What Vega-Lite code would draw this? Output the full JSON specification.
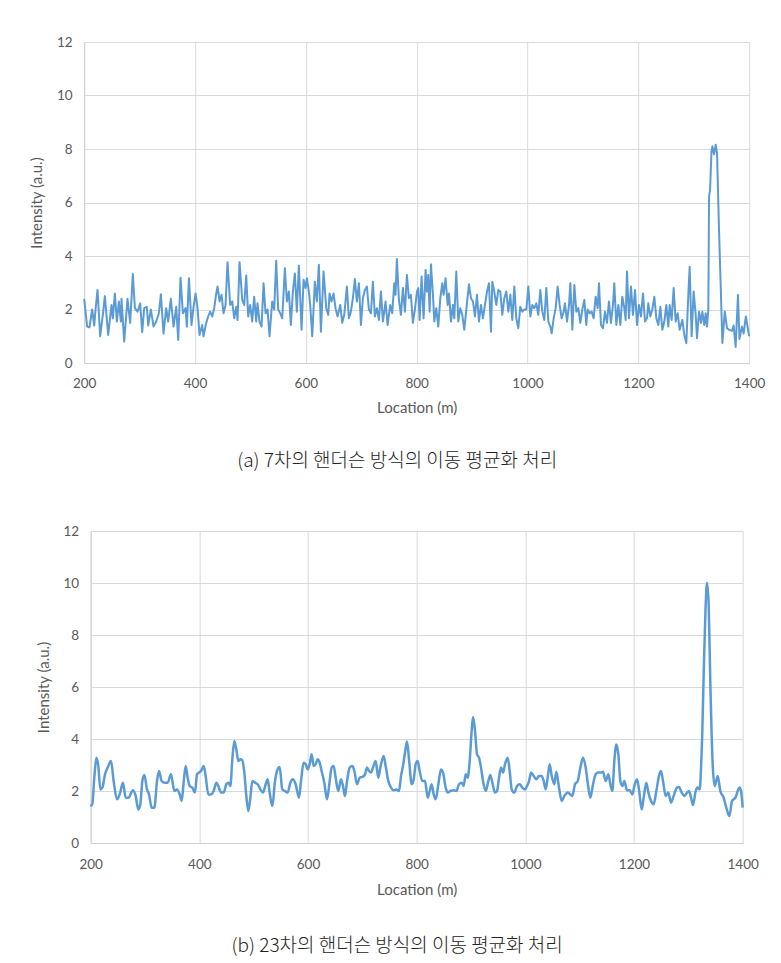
{
  "$schema": "https://vega.github.io/schema/vega-lite/v6.json",
  "background": "white",
  "padding": {"left": 29, "top": 35, "right": 20, "bottom": 10},
  "spacing": 53,
  "center": true,
  "config": {
    "view": {"stroke": null},
    "font": "Lato",
    "axis": {
      "labelFont": "Lato", "labelFontSize": 13.5, "labelColor": "#595959", "labelFlush": false,
      "titleFont": "Lato", "titleFontSize": 15, "titleFontWeight": "normal", "titleColor": "#595959",
      "gridColor": "#d9d9d9", "gridWidth": 1, "domainColor": "#d0d0d0", "ticks": false
    }
  },
  "datasets": {
    "a": [
      {"x":200,"y":2.4},{"x":205.4,"y":1.36},{"x":209.6,"y":1.33},{"x":214.4,"y":2.0},{"x":218.1,"y":1.4},{"x":220.5,"y":2.0},{"x":224.1,"y":2.73},{"x":228.9,"y":1.0},{"x":233.7,"y":1.8},{"x":237.3,"y":2.5},{"x":243.3,"y":1.05},{"x":249.3,"y":2.17},{"x":251.7,"y":1.67},{"x":255.4,"y":2.6},{"x":259,"y":1.55},{"x":262.6,"y":2.3},{"x":266.2,"y":1.55},{"x":267.4,"y":2.4},{"x":272.2,"y":0.8},{"x":278.2,"y":2.4},{"x":283,"y":1.5},{"x":287.8,"y":3.33},{"x":291.5,"y":2.05},{"x":296.3,"y":1.92},{"x":301.1,"y":2.23},{"x":304.7,"y":1.15},{"x":308.3,"y":2.05},{"x":313.1,"y":2.1},{"x":315.5,"y":1.4},{"x":320.3,"y":2.0},{"x":325.2,"y":1.36},{"x":330,"y":1.55},{"x":334.8,"y":1.86},{"x":338.4,"y":2.57},{"x":343.2,"y":1.1},{"x":348,"y":2.05},{"x":351.6,"y":1.55},{"x":356.4,"y":2.4},{"x":361.3,"y":1.36},{"x":366.1,"y":2.1},{"x":369.7,"y":0.86},{"x":373.9,"y":3.19},{"x":378.1,"y":1.86},{"x":382.9,"y":2.05},{"x":385.3,"y":1.36},{"x":389.1,"y":3.17},{"x":393.7,"y":1.42},{"x":397.4,"y":2.1},{"x":401,"y":2.6},{"x":404.6,"y":2.05},{"x":408.2,"y":1.05},{"x":413,"y":1.42},{"x":415.4,"y":1.0},{"x":420.2,"y":1.5},{"x":423.8,"y":1.74},{"x":427.4,"y":1.92},{"x":431.1,"y":1.74},{"x":434.7,"y":2.05},{"x":438.3,"y":2.6},{"x":440.7,"y":2.86},{"x":444.3,"y":2.3},{"x":447.9,"y":2.55},{"x":451.5,"y":1.86},{"x":455.1,"y":2.17},{"x":458.7,"y":3.77},{"x":463.5,"y":2.17},{"x":467.2,"y":2.3},{"x":470.8,"y":1.67},{"x":474.4,"y":2.1},{"x":476.8,"y":1.61},{"x":480.4,"y":3.77},{"x":485.2,"y":2.36},{"x":488.8,"y":2.17},{"x":492.4,"y":3.27},{"x":496,"y":1.74},{"x":499.6,"y":2.17},{"x":503.2,"y":1.55},{"x":506.8,"y":2.48},{"x":510.4,"y":1.55},{"x":512.8,"y":2.23},{"x":516.4,"y":1.55},{"x":520.1,"y":1.36},{"x":523.7,"y":2.98},{"x":527.3,"y":1.86},{"x":530.9,"y":2.0},{"x":534.5,"y":1.0},{"x":539.3,"y":2.3},{"x":542.9,"y":2.0},{"x":546.5,"y":3.82},{"x":550.1,"y":2.0},{"x":553.8,"y":1.86},{"x":557.4,"y":1.67},{"x":562.2,"y":3.54},{"x":565.8,"y":2.3},{"x":569.4,"y":2.67},{"x":573,"y":1.42},{"x":576.6,"y":2.67},{"x":580.2,"y":3.35},{"x":583.8,"y":1.92},{"x":587.4,"y":3.64},{"x":592.3,"y":1.24},{"x":595.9,"y":3.11},{"x":599.5,"y":2.8},{"x":601.9,"y":3.17},{"x":605.5,"y":2.67},{"x":607.9,"y":2.17},{"x":611.5,"y":1.0},{"x":616.3,"y":3.04},{"x":619.9,"y":2.3},{"x":623.5,"y":3.67},{"x":627.2,"y":1.17},{"x":632,"y":3.42},{"x":636.8,"y":2.05},{"x":640.4,"y":1.8},{"x":642.8,"y":2.6},{"x":646.4,"y":2.3},{"x":650,"y":2.6},{"x":653.6,"y":2.05},{"x":657.2,"y":1.74},{"x":662.1,"y":2.17},{"x":665.7,"y":1.5},{"x":669.3,"y":1.8},{"x":674.1,"y":2.86},{"x":677.7,"y":1.67},{"x":681.3,"y":1.92},{"x":684.9,"y":2.42},{"x":688.5,"y":3.14},{"x":692.1,"y":2.3},{"x":695.8,"y":2.98},{"x":699.4,"y":1.42},{"x":703,"y":2.42},{"x":706.6,"y":2.73},{"x":710.2,"y":2.86},{"x":713.8,"y":2.0},{"x":717.4,"y":1.86},{"x":721,"y":3.04},{"x":724.6,"y":1.74},{"x":728.2,"y":2.05},{"x":731.9,"y":1.61},{"x":735.5,"y":2.67},{"x":739.1,"y":1.55},{"x":743.9,"y":2.3},{"x":747.5,"y":1.42},{"x":752.3,"y":2.17},{"x":755.9,"y":1.86},{"x":759.5,"y":2.98},{"x":761.9,"y":2.55},{"x":764.3,"y":3.89},{"x":768,"y":2.36},{"x":771.6,"y":1.8},{"x":775.2,"y":2.8},{"x":778.8,"y":1.92},{"x":782.4,"y":3.29},{"x":786,"y":2.42},{"x":789.6,"y":2.55},{"x":793.2,"y":1.5},{"x":796.8,"y":2.0},{"x":800.5,"y":2.67},{"x":802.9,"y":2.8},{"x":805.3,"y":1.61},{"x":808.9,"y":3.23},{"x":812.5,"y":1.67},{"x":816.1,"y":3.48},{"x":818.5,"y":2.67},{"x":820.9,"y":3.29},{"x":823.4,"y":1.92},{"x":825.8,"y":3.69},{"x":829.4,"y":2.55},{"x":831.8,"y":1.55},{"x":835.4,"y":2.05},{"x":839,"y":1.36},{"x":842.6,"y":2.42},{"x":846.2,"y":2.98},{"x":848.6,"y":2.55},{"x":852.2,"y":3.17},{"x":855.9,"y":2.17},{"x":858.3,"y":2.6},{"x":861.9,"y":1.55},{"x":865.5,"y":2.17},{"x":867.9,"y":1.67},{"x":871.5,"y":3.42},{"x":875.1,"y":1.55},{"x":878.7,"y":2.05},{"x":882.3,"y":1.8},{"x":885.9,"y":1.24},{"x":890.7,"y":2.23},{"x":894.4,"y":2.94},{"x":898,"y":2.42},{"x":901.6,"y":2.3},{"x":905.2,"y":1.74},{"x":908.8,"y":2.55},{"x":912.4,"y":1.55},{"x":916,"y":2.17},{"x":919.6,"y":1.67},{"x":923.2,"y":2.17},{"x":926.9,"y":2.67},{"x":930.5,"y":2.98},{"x":934.1,"y":1.17},{"x":936.5,"y":3.04},{"x":940.1,"y":2.67},{"x":943.7,"y":2.17},{"x":947.3,"y":2.73},{"x":950.9,"y":2.67},{"x":954.5,"y":1.8},{"x":958.1,"y":2.42},{"x":961.7,"y":2.67},{"x":965.4,"y":1.92},{"x":969,"y":2.55},{"x":972.6,"y":1.61},{"x":976.2,"y":2.86},{"x":979.8,"y":1.67},{"x":983.4,"y":1.3},{"x":987,"y":2.1},{"x":990.6,"y":1.92},{"x":994.2,"y":2.0},{"x":997.9,"y":2.0},{"x":1001.5,"y":2.86},{"x":1005.1,"y":1.74},{"x":1008.7,"y":2.17},{"x":1012.3,"y":2.05},{"x":1015.9,"y":2.23},{"x":1019.5,"y":1.8},{"x":1023.1,"y":2.73},{"x":1026.7,"y":1.92},{"x":1030.3,"y":1.61},{"x":1034,"y":2.8},{"x":1037.6,"y":1.55},{"x":1041.2,"y":1.36},{"x":1043.6,"y":1.11},{"x":1047.2,"y":1.67},{"x":1050.8,"y":2.05},{"x":1054.4,"y":2.86},{"x":1058,"y":2.17},{"x":1061.6,"y":1.67},{"x":1065.2,"y":1.92},{"x":1067.6,"y":2.23},{"x":1071.3,"y":1.55},{"x":1074.9,"y":2.17},{"x":1077.3,"y":2.98},{"x":1080.9,"y":1.24},{"x":1084.5,"y":2.92},{"x":1088.1,"y":1.92},{"x":1091.7,"y":2.05},{"x":1095.3,"y":1.5},{"x":1098.9,"y":2.0},{"x":1102.6,"y":2.36},{"x":1106.1,"y":1.42},{"x":1108.5,"y":2.0},{"x":1112.1,"y":1.86},{"x":1115.7,"y":1.92},{"x":1119.3,"y":1.67},{"x":1123,"y":2.48},{"x":1126.6,"y":2.05},{"x":1129,"y":2.98},{"x":1132.6,"y":1.42},{"x":1136.2,"y":1.3},{"x":1139.8,"y":1.92},{"x":1143.4,"y":1.5},{"x":1147,"y":2.3},{"x":1150.6,"y":1.5},{"x":1154.2,"y":2.17},{"x":1156.6,"y":2.98},{"x":1160.3,"y":1.42},{"x":1163.9,"y":2.17},{"x":1167.5,"y":1.42},{"x":1171.1,"y":2.48},{"x":1174.7,"y":2.05},{"x":1177.1,"y":1.61},{"x":1179.5,"y":3.42},{"x":1183.1,"y":1.67},{"x":1186.7,"y":2.86},{"x":1190.3,"y":1.8},{"x":1194,"y":2.73},{"x":1197.6,"y":1.42},{"x":1201.2,"y":2.17},{"x":1204.8,"y":1.74},{"x":1208.4,"y":2.6},{"x":1212,"y":1.55},{"x":1215.6,"y":1.67},{"x":1218,"y":2.23},{"x":1221.6,"y":1.74},{"x":1225.2,"y":2.0},{"x":1228.8,"y":2.48},{"x":1232.5,"y":1.67},{"x":1236.1,"y":1.42},{"x":1239.7,"y":2.1},{"x":1243.3,"y":1.24},{"x":1246.9,"y":1.55},{"x":1250.5,"y":2.17},{"x":1254.1,"y":1.36},{"x":1256.5,"y":2.17},{"x":1260.1,"y":1.61},{"x":1263.7,"y":2.8},{"x":1267.4,"y":1.55},{"x":1271,"y":1.86},{"x":1274.6,"y":1.24},{"x":1279.4,"y":1.61},{"x":1283,"y":1.05},{"x":1286.6,"y":0.74},{"x":1290.2,"y":2.55},{"x":1292.6,"y":3.6},{"x":1296.2,"y":1.0},{"x":1299.8,"y":2.67},{"x":1303.5,"y":1.8},{"x":1305.9,"y":0.93},{"x":1309.5,"y":1.92},{"x":1313.1,"y":1.5},{"x":1315.5,"y":1.92},{"x":1319.1,"y":1.42},{"x":1321.5,"y":1.86},{"x":1323.9,"y":1.36},{"x":1326.3,"y":2.0},{"x":1327.6,"y":6.2},{"x":1329.5,"y":6.5},{"x":1332,"y":7.9},{"x":1333.6,"y":8.1},{"x":1336.6,"y":7.8},{"x":1339.6,"y":8.16},{"x":1342,"y":7.85},{"x":1345.6,"y":4.97},{"x":1351.7,"y":0.75},{"x":1356,"y":1.92},{"x":1360,"y":1.3},{"x":1364,"y":1.24},{"x":1369,"y":1.2},{"x":1372,"y":1.4},{"x":1375.6,"y":0.6},{"x":1379.8,"y":2.54},{"x":1382.5,"y":0.9},{"x":1387,"y":1.36},{"x":1390,"y":1.1},{"x":1394,"y":1.74},{"x":1400,"y":1.0}
    ],
    "b": [
      {"x":199.4,"y":1.42},{"x":203,"y":1.49},{"x":206.7,"y":2.51},{"x":210.4,"y":3.28},{"x":214.1,"y":2.96},{"x":217.8,"y":2.06},{"x":221.5,"y":2.13},{"x":226.4,"y":2.64},{"x":231.3,"y":2.9},{"x":237.4,"y":3.15},{"x":242.3,"y":2.38},{"x":248.5,"y":1.68},{"x":253.4,"y":1.87},{"x":259.5,"y":2.32},{"x":264.4,"y":1.74},{"x":269.3,"y":1.74},{"x":277.9,"y":2.03},{"x":282.8,"y":1.81},{"x":287.7,"y":1.29},{"x":291.4,"y":1.49},{"x":295.1,"y":2.38},{"x":298.8,"y":2.62},{"x":303.7,"y":2.06},{"x":307.3,"y":1.87},{"x":312.3,"y":1.36},{"x":317.2,"y":1.36},{"x":322.1,"y":2.38},{"x":325.8,"y":2.77},{"x":330.7,"y":2.38},{"x":336.8,"y":2.32},{"x":341.7,"y":2.32},{"x":347.8,"y":2.64},{"x":354,"y":2.0},{"x":358.9,"y":2.06},{"x":363.8,"y":1.87},{"x":367.5,"y":1.62},{"x":371.1,"y":2.32},{"x":374.8,"y":2.96},{"x":378.5,"y":2.51},{"x":382.2,"y":2.19},{"x":387.1,"y":2.13},{"x":392,"y":1.94},{"x":395.7,"y":2.64},{"x":399.4,"y":2.71},{"x":403,"y":2.77},{"x":408,"y":2.96},{"x":411.6,"y":2.58},{"x":416.5,"y":1.87},{"x":421.5,"y":1.87},{"x":426.4,"y":2.0},{"x":431.3,"y":2.32},{"x":435,"y":2.19},{"x":439.9,"y":1.94},{"x":444.8,"y":1.94},{"x":449.7,"y":2.26},{"x":453.4,"y":2.32},{"x":457.1,"y":2.19},{"x":460.7,"y":3.22},{"x":464.4,"y":3.92},{"x":468.1,"y":3.6},{"x":471.8,"y":3.15},{"x":475.5,"y":3.22},{"x":479.1,"y":3.18},{"x":482.8,"y":2.71},{"x":486.5,"y":1.81},{"x":490.2,"y":1.23},{"x":493.9,"y":1.74},{"x":497.5,"y":2.38},{"x":502.5,"y":2.32},{"x":507.4,"y":2.26},{"x":512.3,"y":2.06},{"x":517.2,"y":1.94},{"x":522.1,"y":2.26},{"x":525.8,"y":2.45},{"x":529.4,"y":1.94},{"x":534.3,"y":1.42},{"x":539.3,"y":2.38},{"x":542.9,"y":2.77},{"x":547.8,"y":2.92},{"x":552.7,"y":2.06},{"x":557.7,"y":2.0},{"x":562.6,"y":1.94},{"x":567.5,"y":2.32},{"x":572.4,"y":2.45},{"x":577.3,"y":2.26},{"x":583.4,"y":1.74},{"x":587.1,"y":2.38},{"x":592,"y":3.09},{"x":595.7,"y":3.03},{"x":599.4,"y":2.83},{"x":603,"y":3.03},{"x":606.7,"y":3.41},{"x":610.4,"y":2.96},{"x":614.1,"y":3.03},{"x":617.8,"y":3.22},{"x":621.5,"y":3.09},{"x":625.1,"y":2.77},{"x":630,"y":2.32},{"x":635,"y":1.68},{"x":639.9,"y":2.38},{"x":643.5,"y":2.9},{"x":647.2,"y":2.96},{"x":650.9,"y":2.51},{"x":655.8,"y":2.0},{"x":660.7,"y":2.45},{"x":664.4,"y":2.19},{"x":668.1,"y":1.81},{"x":671.8,"y":2.38},{"x":676.7,"y":2.9},{"x":681.6,"y":2.96},{"x":685.3,"y":2.77},{"x":690.2,"y":2.26},{"x":695.1,"y":2.51},{"x":700,"y":2.54},{"x":704.9,"y":2.64},{"x":708.6,"y":2.9},{"x":712.3,"y":2.77},{"x":715.9,"y":2.71},{"x":719.6,"y":2.9},{"x":724.5,"y":3.15},{"x":729.4,"y":2.51},{"x":733.1,"y":2.9},{"x":739.3,"y":3.35},{"x":742.9,"y":2.96},{"x":747.9,"y":2.38},{"x":752.8,"y":2.13},{"x":757.7,"y":2.03},{"x":762.6,"y":2.06},{"x":767.5,"y":2.0},{"x":771.2,"y":2.58},{"x":774.8,"y":2.96},{"x":778.5,"y":3.47},{"x":782.2,"y":3.9},{"x":785.9,"y":3.22},{"x":790.8,"y":2.26},{"x":794.5,"y":2.45},{"x":798.2,"y":3.03},{"x":801.8,"y":3.15},{"x":805.5,"y":2.77},{"x":810.5,"y":2.38},{"x":815.4,"y":2.38},{"x":820.3,"y":1.74},{"x":824,"y":2.0},{"x":827.6,"y":2.26},{"x":831.3,"y":1.87},{"x":835,"y":1.68},{"x":839.9,"y":2.26},{"x":844.8,"y":2.83},{"x":848.5,"y":2.71},{"x":853.4,"y":2.13},{"x":857.1,"y":1.94},{"x":862,"y":2.0},{"x":868.1,"y":2.03},{"x":873,"y":2.0},{"x":877.9,"y":2.26},{"x":882.8,"y":2.32},{"x":886.5,"y":2.19},{"x":890.2,"y":2.64},{"x":893.9,"y":2.51},{"x":897.6,"y":3.15},{"x":901.2,"y":4.31},{"x":903.7,"y":4.85},{"x":907.4,"y":4.31},{"x":911.1,"y":3.41},{"x":914.7,"y":3.28},{"x":918.4,"y":2.9},{"x":922.1,"y":2.38},{"x":927,"y":2.0},{"x":931.9,"y":2.38},{"x":935.6,"y":2.62},{"x":939.3,"y":2.32},{"x":944.2,"y":1.94},{"x":947.9,"y":2.0},{"x":951.6,"y":2.51},{"x":955.2,"y":2.9},{"x":958.9,"y":2.71},{"x":962.6,"y":3.03},{"x":967.5,"y":3.28},{"x":971.2,"y":2.77},{"x":974.9,"y":2.06},{"x":979.8,"y":1.94},{"x":984.7,"y":2.19},{"x":989.6,"y":2.26},{"x":994.5,"y":2.13},{"x":999.4,"y":2.06},{"x":1003.1,"y":2.19},{"x":1006.8,"y":2.38},{"x":1010.5,"y":2.71},{"x":1015.4,"y":2.58},{"x":1020.3,"y":2.45},{"x":1025.2,"y":2.58},{"x":1030.1,"y":2.58},{"x":1033.8,"y":2.38},{"x":1037.4,"y":2.06},{"x":1041.1,"y":2.51},{"x":1044.8,"y":3.03},{"x":1048.5,"y":2.58},{"x":1053.4,"y":2.26},{"x":1057.1,"y":2.74},{"x":1062,"y":2.13},{"x":1066.9,"y":1.62},{"x":1071.8,"y":1.81},{"x":1077.9,"y":1.94},{"x":1082.8,"y":1.87},{"x":1086.5,"y":1.81},{"x":1091.4,"y":2.26},{"x":1096.3,"y":2.38},{"x":1101.3,"y":2.9},{"x":1106.2,"y":3.28},{"x":1111.1,"y":2.9},{"x":1116,"y":2.13},{"x":1119.7,"y":1.74},{"x":1124.6,"y":2.26},{"x":1129.5,"y":2.64},{"x":1134.4,"y":2.71},{"x":1139.3,"y":2.71},{"x":1143,"y":2.74},{"x":1147.9,"y":2.38},{"x":1152.8,"y":2.64},{"x":1156.5,"y":2.26},{"x":1160.1,"y":2.0},{"x":1163.8,"y":3.15},{"x":1167.5,"y":3.79},{"x":1171.2,"y":3.41},{"x":1174.9,"y":2.38},{"x":1178.6,"y":2.19},{"x":1182.2,"y":2.38},{"x":1187.1,"y":2.03},{"x":1192,"y":2.03},{"x":1197,"y":1.87},{"x":1200.6,"y":2.19},{"x":1205.5,"y":2.45},{"x":1209.2,"y":2.06},{"x":1214.1,"y":1.29},{"x":1217.8,"y":1.74},{"x":1222.7,"y":2.32},{"x":1226.4,"y":1.94},{"x":1231.3,"y":1.62},{"x":1236.2,"y":1.49},{"x":1241.1,"y":2.0},{"x":1246,"y":2.58},{"x":1249.7,"y":2.77},{"x":1253.4,"y":2.38},{"x":1258.3,"y":1.81},{"x":1263.2,"y":1.94},{"x":1268.1,"y":1.55},{"x":1273,"y":1.81},{"x":1279.2,"y":2.13},{"x":1282.8,"y":2.15},{"x":1287.8,"y":1.94},{"x":1292.7,"y":1.81},{"x":1297.6,"y":1.94},{"x":1301.3,"y":2.0},{"x":1305,"y":1.74},{"x":1308.6,"y":1.46},{"x":1313.5,"y":2.0},{"x":1317.2,"y":2.13},{"x":1320.9,"y":2.06},{"x":1323.4,"y":2.9},{"x":1325.5,"y":4.1},{"x":1328.4,"y":6.62},{"x":1331.5,"y":8.92},{"x":1334.4,"y":10.01},{"x":1337.4,"y":9.18},{"x":1340.4,"y":6.23},{"x":1344.8,"y":3.03},{"x":1348.4,"y":2.19},{"x":1354,"y":2.58},{"x":1358.9,"y":2.0},{"x":1365,"y":1.74},{"x":1369.9,"y":1.36},{"x":1375.4,"y":1.04},{"x":1380.5,"y":1.62},{"x":1386.6,"y":1.74},{"x":1394.1,"y":2.13},{"x":1397,"y":2.0},{"x":1400,"y":1.36}
    ]
  },
  "vconcat": [
    {
      "width": 665,
      "height": 321,
      "data": {"name": "a"},
      "title": {"text": "(a) 7차의 핸더슨 방식의 이동 평균화 처리", "orient": "bottom", "anchor": "middle", "frame": "bounds", "offset": 36, "font": "Noto Sans CJK KR", "fontSize": 19, "fontWeight": 300, "color": "#222222"},
      "mark": {"type": "line", "color": "#5B9BD5", "strokeWidth": 2, "strokeJoin": "round"},
      "encoding": {
        "x": {"field": "x", "type": "quantitative", "scale": {"domain": [200, 1400], "nice": false},
              "axis": {"values": [200, 400, 600, 800, 1000, 1200, 1400], "format": "d", "title": "Location (m)", "labelPadding": 13, "titlePadding": 11}},
        "y": {"field": "y", "type": "quantitative", "scale": {"domain": [0, 12], "nice": false},
              "axis": {"values": [0, 2, 4, 6, 8, 10, 12], "title": "Intensity (a.u.)", "labelPadding": 12, "titlePadding": 12}}
      }
    },
    {
      "width": 652,
      "height": 312,
      "data": {"name": "b"},
      "title": {"text": "(b) 23차의 핸더슨 방식의 이동 평균화 처리", "orient": "bottom", "anchor": "middle", "frame": "bounds", "offset": 39, "font": "Noto Sans CJK KR", "fontSize": 19, "fontWeight": 300, "color": "#222222"},
      "mark": {"type": "line", "color": "#5B9BD5", "strokeWidth": 2.5, "strokeJoin": "round", "interpolate": "monotone"},
      "encoding": {
        "x": {"field": "x", "type": "quantitative", "scale": {"domain": [200, 1400], "nice": false},
              "axis": {"values": [200, 400, 600, 800, 1000, 1200, 1400], "format": "d", "title": "Location (m)", "labelPadding": 14, "titlePadding": 12}},
        "y": {"field": "y", "type": "quantitative", "scale": {"domain": [0, 12], "nice": false},
              "axis": {"values": [0, 2, 4, 6, 8, 10, 12], "title": "Intensity (a.u.)", "labelPadding": 12, "titlePadding": 12}}
      }
    }
  ]
}
